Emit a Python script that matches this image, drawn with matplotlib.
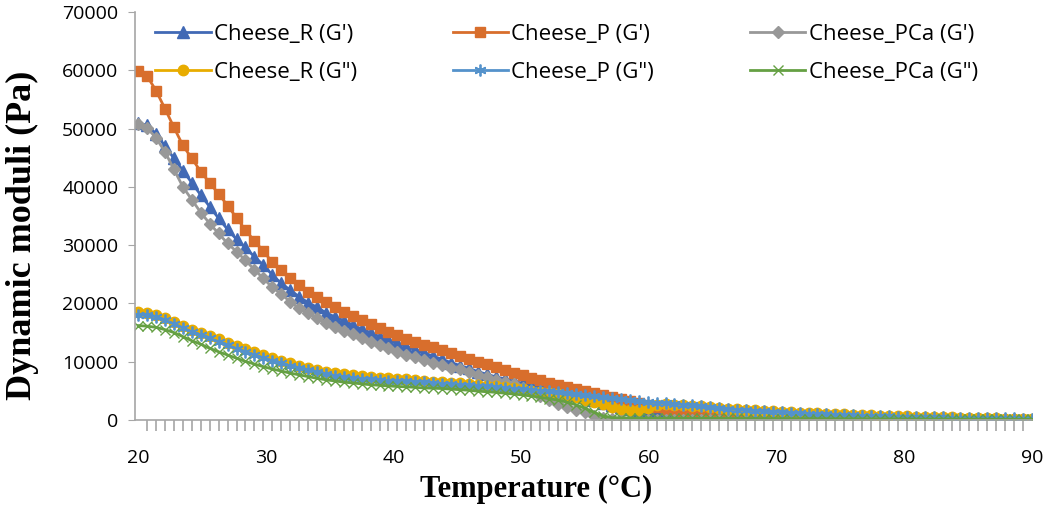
import numpy as np
import matplotlib
matplotlib.use("Agg")
import matplotlib.pyplot as plt

# temperature steps (deg C), 101 readings between 20 and 90
temperature = np.round(np.linspace(20, 90, 101), 1)

cheese_r_gp = [
    50900, 50600, 49100, 47000, 44900, 42800, 40700, 38600, 36600, 34600,
    32700, 31000, 29600, 28000, 26600, 24900, 23450, 22300, 21150, 20150,
    19350, 18400, 17700, 17050, 16300, 15600, 15000, 14300, 13700, 13150,
    12600, 12050, 11500, 10950, 10400, 9850, 9350, 8850, 8300, 7850,
    7400, 7050, 6650, 6300, 5950, 5650, 5350, 5050, 4700, 4350,
    3950, 3500, 3000, 2550, 2200, 1950, 1750, 1500, 1250, 1000,
    800, 650, 520, 430, 360, 310, 270, 240, 210, 190,
    170, 160, 150, 140, 130, 120, 115, 110, 105, 100,
    95, 90, 85, 80, 78, 75, 72, 70, 68, 65,
    62, 60, 58, 55, 52, 50, 48, 46, 44, 42, 40,
]
cheese_p_gp = [
    59900, 59000, 56500, 53400, 50200, 47100, 44900, 42600, 40700, 38800,
    36800, 34700, 32600, 30700, 29000, 27050, 25700, 24300, 23150, 22000,
    21150, 20200, 19400, 18550, 17850, 17150, 16450, 15700, 15150, 14600,
    13900, 13300, 12850, 12450, 12000, 11550, 11050, 10500, 10000, 9600,
    9150, 8600, 8100, 7650, 7250, 6850, 6400, 6000, 5600, 5250,
    4900, 4600, 4300, 4000, 3650, 3300, 2950, 2600, 2250, 1950,
    1650, 1350, 1100, 900, 700, 560, 460, 390, 330, 290,
    260, 240, 220, 200, 190, 180, 170, 160, 150, 140,
    130, 120, 115, 110, 100, 95, 90, 85, 80, 75,
    70, 65, 60, 60, 55, 55, 50, 50, 45, 45, 40,
]
cheese_pca_gp = [
    50800, 50100, 48400, 46000, 43000, 40000, 37800, 35600, 33700, 32000,
    30300, 28900, 27400, 25800, 24300, 22760, 21620, 20300, 19160, 18300,
    17450, 16700, 16010, 15270, 14700, 14010, 13440, 12870, 12300, 11750,
    11200, 10750, 10300, 9850, 9400, 9000, 8700, 8200, 7750, 7300,
    6900, 6550, 6100, 5550, 4900, 4200, 3400, 2700, 2250, 1800,
    1350, 700, 300, 150, 90, 70, 60, 55, 50, 50,
    45, 45, 40, 40, 40, 40, 38, 38, 36, 36,
    35, 35, 34, 34, 33, 33, 32, 32, 31, 31,
    30, 30, 30, 30, 30, 30, 30, 30, 30, 30,
    28, 28, 28, 28, 28, 28, 28, 28, 28, 28, 28,
]
cheese_r_gpp = [
    18500, 18400, 18000, 17450, 16870, 16130, 15450, 14980, 14400, 13850,
    13270, 12700, 12150, 11600, 11100, 10600, 10150, 9700, 9300, 8950,
    8600, 8300, 8050, 7850, 7650, 7500, 7350, 7250, 7150, 7050,
    6950, 6850, 6750, 6600, 6500, 6400, 6300, 6200, 6050, 5900,
    5750, 5600, 5450, 5250, 5050, 4850, 4650, 4450, 4200, 3900,
    3500, 3100, 2700, 2200, 1900, 1700, 1750, 2100, 2500, 2700,
    2650, 2550, 2450, 2350, 2250, 2100, 1950, 1850, 1750, 1650,
    1560, 1480, 1400, 1330, 1260, 1200, 1140, 1080, 1030, 980,
    900, 850, 800, 760, 720, 680, 640, 600, 560, 520,
    480, 440, 400, 360, 330, 300, 270, 240, 210, 180, 160,
]
cheese_p_gpp = [
    18000, 18100, 17700, 17100, 16500, 15800, 15100, 14550, 14000, 13400,
    12800, 12250, 11700, 11150, 10650, 10150, 9700, 9250, 8850, 8500,
    8150, 7850, 7600, 7400, 7250, 7100, 6950, 6850, 6750, 6700,
    6650, 6550, 6450, 6350, 6250, 6150, 6050, 5950, 5850, 5750,
    5650, 5550, 5400, 5300, 5200, 5050, 4900, 4750, 4600, 4450,
    4300, 4150, 3950, 3750, 3550, 3400, 3250, 3100, 3000, 2900,
    2800, 2650, 2500, 2350, 2200, 2050, 1900, 1800, 1700, 1600,
    1500, 1420, 1340, 1260, 1180, 1100, 1040, 980, 920, 860,
    800, 760, 720, 680, 640, 600, 570, 540, 510, 480,
    450, 420, 390, 360, 340, 320, 300, 280, 260, 240, 220,
]
cheese_pca_gpp = [
    16200, 16100, 15900, 15500, 15000, 14300, 13600, 13000, 12300, 11700,
    11150, 10600, 10050, 9600, 9150, 8750, 8400, 8050, 7750, 7450,
    7150, 6900, 6700, 6500, 6350, 6200, 6050, 5950, 5850, 5750,
    5700, 5600, 5500, 5450, 5400, 5300, 5200, 5100, 4950, 4850,
    4750, 4600, 4450, 4300, 4100, 3900, 3650, 3400, 3050, 2600,
    2000, 1300, 700, 400, 350, 330, 320, 310, 300, 300,
    290, 290, 280, 280, 270, 270, 260, 260, 250, 250,
    240, 240, 230, 230, 220, 220, 210, 210, 200, 200,
    190, 190, 180, 180, 170, 170, 160, 160, 150, 150,
    140, 140, 130, 130, 120, 120, 110, 110, 100, 100, 100,
]

series = [
    ("Cheese_R (G')", cheese_r_gp, "#4169B5", "^"),
    ("Cheese_P (G')", cheese_p_gp, "#D86E2C", "s"),
    ("Cheese_PCa (G')", cheese_pca_gp, "#989898", "D"),
    ("Cheese_R (G\")", cheese_r_gpp, "#E8AC00", "o"),
    ("Cheese_P (G\")", cheese_p_gpp, "#5492CB", (6, 2, 0)),
    ("Cheese_PCa (G\")", cheese_pca_gpp, "#65A043", "x"),
]
marker_size = {"^": 8, "s": 7.5, "D": 6.2, "o": 7.5, "x": 6.5}

plt.rcParams["font.family"] = ["Open Sans", "DejaVu Sans"]

fig = plt.figure(figsize=(10.47, 5.12), dpi=100)
ax = fig.add_axes([135 / 1047, 92 / 512, 897 / 1047, 408 / 512])

handles = {}
for label, values, color, marker in series:
    ms = marker_size.get(marker, 8.5)
    mew = 1.3 if marker == (6, 2, 0) else 1.0
    (line,) = ax.plot(
        temperature,
        values,
        color=color,
        lw=2.0,
        marker=marker,
        markersize=ms,
        markeredgewidth=mew,
        markerfacecolor=color,
        markeredgecolor=color,
        label=label,
    )
    handles[label] = line

ax.set_xlim(19.75, 90)
ax.set_ylim(0, 70000)
ax.set_yticks(np.arange(0, 70001, 10000))
ax.set_xticks(np.arange(20, 91, 10))
ax.set_xticks(temperature, minor=True)

for s in ["top", "right"]:
    ax.spines[s].set_visible(False)
for s in ["left", "bottom"]:
    ax.spines[s].set_color("#A6A6A6")
    ax.spines[s].set_linewidth(1.2)

ax.tick_params(axis="y", which="major", length=5, color="#A6A6A6", labelsize=14, pad=7)
ax.tick_params(axis="x", which="major", length=0, labelsize=14, pad=21)
ax.tick_params(axis="x", which="minor", length=8, width=1.2, color="#A6A6A6")

order = [
    "Cheese_R (G')", "Cheese_R (G\")",
    "Cheese_P (G')", "Cheese_P (G\")",
    "Cheese_PCa (G')", "Cheese_PCa (G\")",
]
ax.legend(
    [handles[k] for k in order],
    order,
    ncol=3,
    loc="upper left",
    bbox_to_anchor=(135 / 1047, 508 / 512),
    bbox_transform=fig.transFigure,
    frameon=False,
    fontsize=16,
    handlelength=2.5,
    handletextpad=0.15,
    columnspacing=4.3,
    labelspacing=0.75,
)

fig.text(
    536 / 1047, 1 - 489 / 512, "Temperature (°C)",
    ha="center", va="center", fontsize=22, fontweight="bold",
    family="Liberation Serif",
)
fig.text(
    22 / 1047, 1 - 235 / 512, "Dynamic moduli (Pa)",
    ha="center", va="center", rotation=90, fontsize=26, fontweight="bold",
    family="Liberation Serif",
)

fig.savefig("out.png", dpi=100)
